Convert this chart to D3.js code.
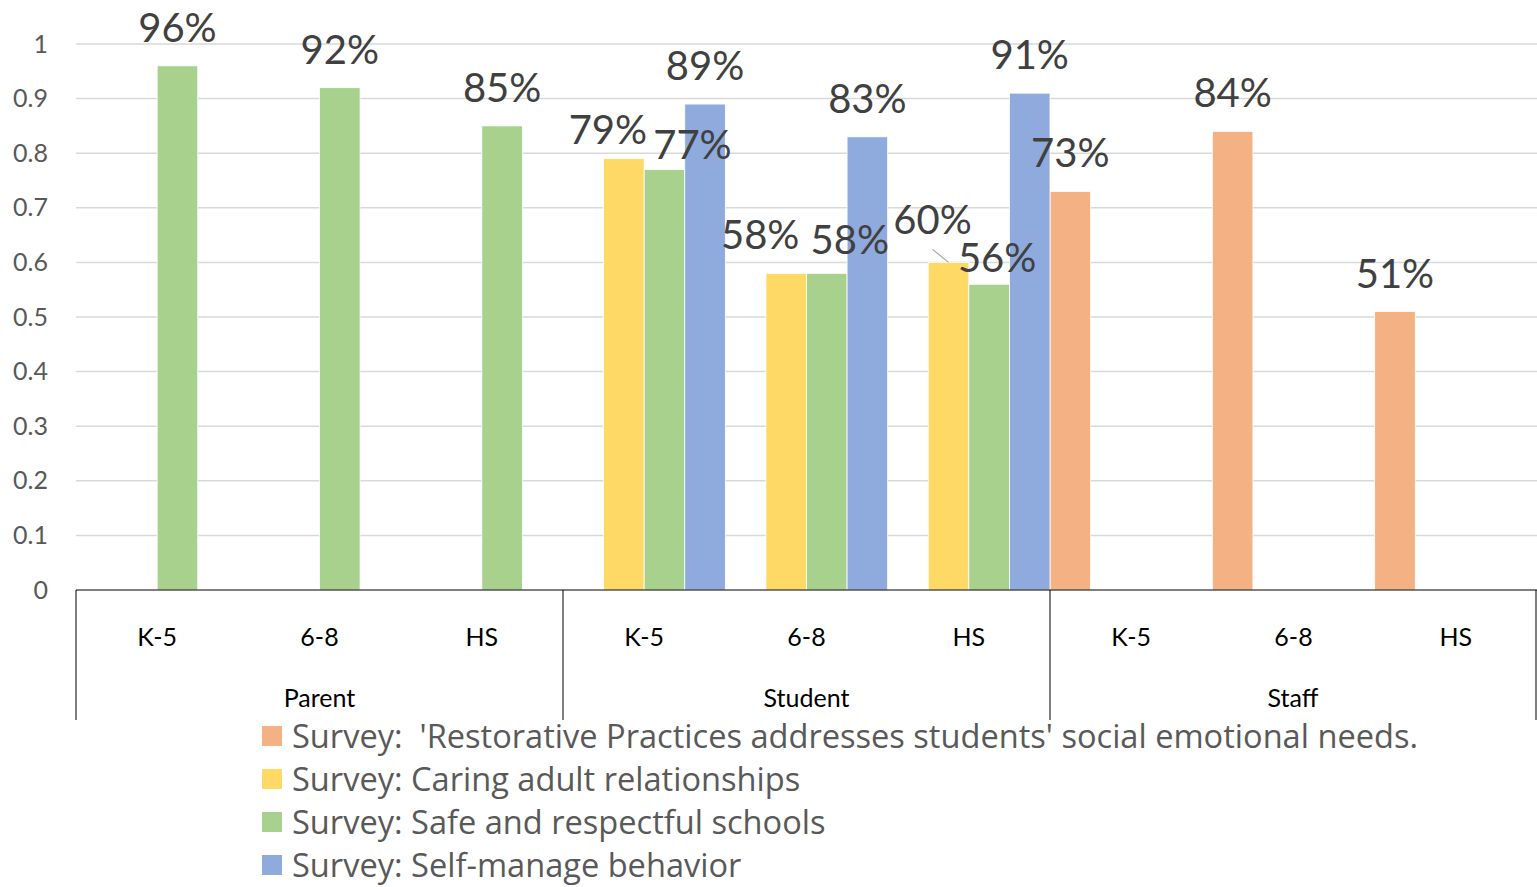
<!DOCTYPE html>
<html>
<head>
<meta charset="utf-8">
<script src="https://cdn.jsdelivr.net/npm/d3@7"></script>
<style>
  html, body { margin: 0; padding: 0; background: #fff; }
  svg { display: block; font-family: Lato, "Open Sans", sans-serif; }
</style>
</head>
<body>
<svg id="chart" width="1537" height="887"></svg>
<script>
// Respondent groups and grade bands on the two-level category axis
const groups = ["Parent", "Student", "Staff"];
const grades = ["K-5", "6-8", "HS"];

// Survey series (legend order)
const seriesNames = [
  "Survey:  'Restorative Practices addresses students' social emotional needs.",
  "Survey: Caring adult relationships",
  "Survey: Safe and respectful schools",
  "Survey: Self-manage behavior"
];
const seriesColors = ["#F4B183", "#FFD966", "#A9D18E", "#8FAADC"];

// Share of favourable responses, in category order
// Parent K-5, 6-8, HS | Student K-5, 6-8, HS | Staff K-5, 6-8, HS
const restorativeValues = [null, null, null, null, null, null, 0.73, 0.84, 0.51];
const caringValues      = [null, null, null, 0.79, 0.58, 0.60, null, null, null];
const safeValues        = [0.96, 0.92, 0.85, 0.77, 0.58, 0.56, null, null, null];
const selfManageValues  = [null, null, null, 0.89, 0.83, 0.91, null, null, null];

const yTicks = [0, 0.1, 0.2, 0.3, 0.4, 0.5, 0.6, 0.7, 0.8, 0.9, 1];

// Hand-placed nudges for data labels that would otherwise collide (px)
const labelNudge = {
  "3-1": [-16, 9], "3-2": [28, 13],
  "4-1": [-26, 0], "4-2": [23, 5],
  "5-1": [-16, -4], "5-2": [8, 12]
};

const seriesValues = [restorativeValues, caringValues, safeValues, selfManageValues];
const categories = [];
groups.forEach(g => grades.forEach(s => categories.push(g + "|" + s)));

const svg = d3.select("#chart");
const plotLeft = 76, plotRight = 1537, plotTop = 44, plotBottom = 590;

const x0 = d3.scaleBand().domain(categories).range([plotLeft, plotRight]).padding(0);
const x1 = d3.scaleBand().domain(d3.range(seriesNames.length)).range([0, x0.bandwidth()]).padding(0);
const y = d3.scaleLinear().domain([0, 1]).range([plotBottom, plotTop]);

// Horizontal gridlines
svg.append("g")
  .selectAll("line")
  .data(yTicks.filter(t => t > 0))
  .join("line")
  .attr("x1", plotLeft).attr("x2", plotRight)
  .attr("y1", d => y(d)).attr("y2", d => y(d))
  .attr("stroke", "#d9d9d9").attr("stroke-width", 1.5);

// Value axis labels
const yAxis = d3.axisLeft(y).tickValues(yTicks).tickSize(0).tickPadding(28)
  .tickFormat(d => d === 0 ? "0" : d === 1 ? "1" : d3.format(".1f")(d));
const yg = svg.append("g").attr("transform", `translate(${plotLeft},0)`).call(yAxis);
yg.select(".domain").remove();
yg.selectAll("text")
  .attr("font-family", "Lato, 'Open Sans', sans-serif")
  .attr("font-size", 25).attr("fill", "#595959");

// Bars
const barData = [];
seriesValues.forEach((vals, si) => vals.forEach((v, ci) => {
  if (v !== null) barData.push({ si, ci, v });
}));

svg.append("g")
  .selectAll("rect")
  .data(barData)
  .join("rect")
  .attr("x", d => x0(categories[d.ci]) + x1(d.si))
  .attr("width", x1.bandwidth())
  .attr("y", d => y(d.v))
  .attr("height", d => y(0) - y(d.v))
  .attr("fill", d => seriesColors[d.si])
  .attr("stroke", "#fff").attr("stroke-width", 0.8);

// Data labels
const labels = svg.append("g");
barData.forEach(d => {
  const cx = x0(categories[d.ci]) + x1(d.si) + x1.bandwidth() / 2;
  const base = y(d.v) - 24;
  const n = labelNudge[d.ci + "-" + d.si] || [0, 0];
  labels.append("text")
    .attr("x", cx + n[0]).attr("y", base + n[1])
    .attr("text-anchor", "middle")
    .attr("font-size", 40).attr("fill", "#404040")
    .text(Math.round(d.v * 100) + "%");
  if (d.ci === 5 && d.si === 1) {
    // leader line from the shifted label back to its bar
    labels.append("line")
      .attr("x1", cx + n[0]).attr("y1", base + n[1] + 15)
      .attr("x2", cx).attr("y2", y(d.v))
      .attr("stroke", "#a6a6a6").attr("stroke-width", 1.2);
  }
});

// Category axis baseline and group dividers
svg.append("line")
  .attr("x1", plotLeft).attr("x2", plotRight)
  .attr("y1", y(0)).attr("y2", y(0))
  .attr("stroke", "#000").attr("stroke-width", 1);

const groupEdges = [0, 3, 6, 9].map(i => i < 9 ? x0(categories[i]) : plotRight - 1);
svg.append("g")
  .selectAll("line")
  .data(groupEdges)
  .join("line")
  .attr("x1", d => d).attr("x2", d => d)
  .attr("y1", y(0)).attr("y2", 720)
  .attr("stroke", "#000").attr("stroke-width", 1);

// Grade band labels
svg.append("g")
  .selectAll("text")
  .data(categories)
  .join("text")
  .attr("x", d => x0(d) + x0.bandwidth() / 2)
  .attr("y", 646)
  .attr("text-anchor", "middle")
  .attr("font-size", 25).attr("fill", "#000")
  .text(d => d.split("|")[1]);

// Group labels
svg.append("g")
  .selectAll("text")
  .data(groups)
  .join("text")
  .attr("x", (g, i) => (groupEdges[i] + groupEdges[i + 1]) / 2)
  .attr("y", 707)
  .attr("text-anchor", "middle")
  .attr("font-size", 25).attr("fill", "#000")
  .text(g => g);

// Legend
const legend = svg.append("g").attr("transform", "translate(262,726)");
const rows = legend.selectAll("g")
  .data(seriesNames)
  .join("g")
  .attr("transform", (d, i) => `translate(0,${i * 43})`);
rows.append("rect")
  .attr("width", 20).attr("height", 20)
  .attr("fill", (d, i) => seriesColors[i]);
rows.append("text")
  .attr("x", 30).attr("y", 22)
  .attr("font-family", "'Open Sans', Lato, sans-serif")
  .attr("font-size", 32.6).attr("fill", "#595959")
  .style("white-space", "pre")
  .text(d => d);
</script>
</body>
</html>
